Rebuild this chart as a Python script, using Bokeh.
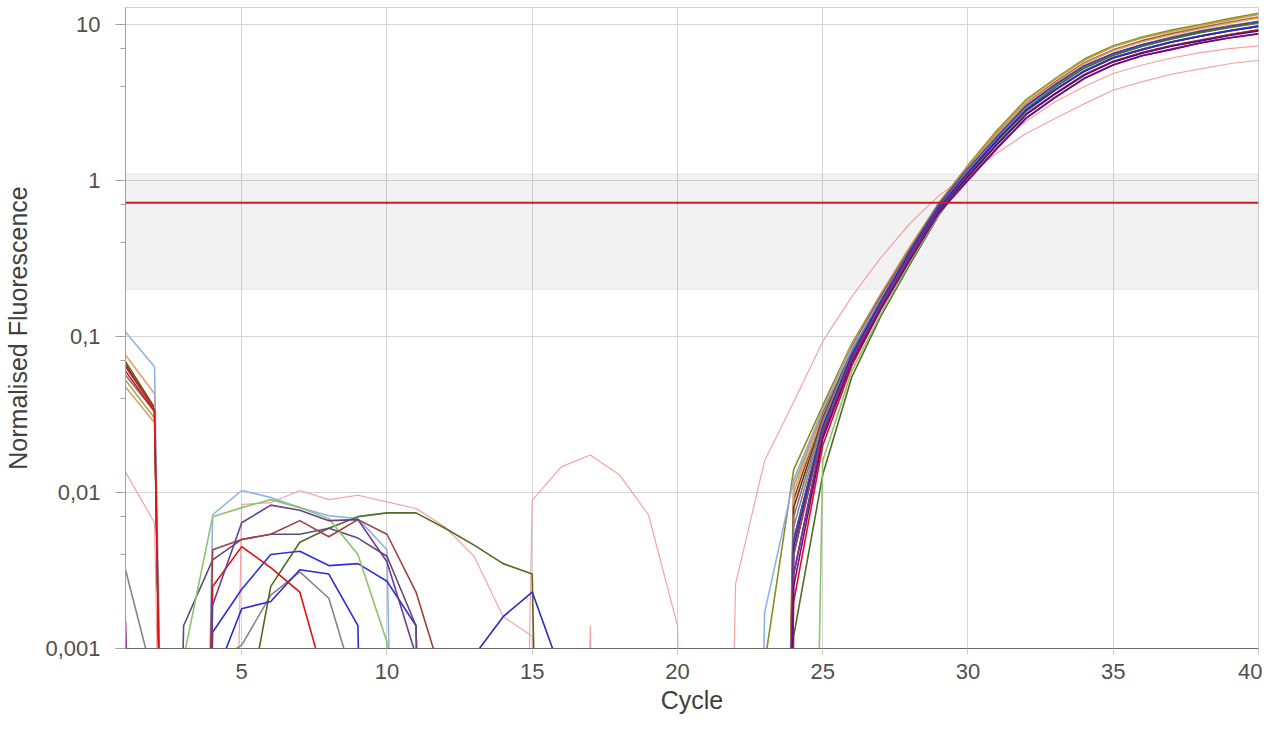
from bokeh.plotting import figure
from bokeh.models import Range1d, FixedTicker, Span, BoxAnnotation
from bokeh.embed import file_html
from bokeh.resources import INLINE

N = 1e-12  # reading below the axis (negative after baseline subtraction)

cycles = list(range(1, 41))

x_ticks = [5, 10, 15, 20, 25, 30, 35, 40]
y_ticks = [0.001, 0.01, 0.1, 1, 10]
y_minor = [0.004, 0.007, 0.04, 0.07, 0.4, 0.7, 4, 7]
y_labels = ["0,001", "0,01", "0,1", "1", "10"]

threshold = 0.72
band_low = 0.2
band_high = 1.1

# ---- series values, cycles 1..40 ----
s_olive = [N, N, N, N, N, N, N, N, N, N,
           N, N, N, N, N, N, N, N, N, N,
           N, N, 0.0008, 0.014, 0.036, 0.09, 0.185, 0.37, 0.72, 1.25,
           2.1, 3.3, 4.5, 6.0, 7.3, 8.3, 9.2, 10.0, 10.9, 11.8]
s_khaki = [0.0525, 0.03, N, N, N, N, N, N, N, N,
           N, N, N, N, N, N, N, N, N, N,
           N, N, N, 0.011, 0.033, 0.086, 0.18, 0.36, 0.71, 1.24,
           2.05, 3.25, 4.45, 5.9, 7.2, 8.2, 9.05, 9.85, 10.7, 11.6]
s_tan = [0.0475, 0.028, N, N, N, N, N, N, N, N,
         N, N, N, N, N, N, N, N, N, N,
         N, N, N, 0.012, 0.034, 0.088, 0.182, 0.365, 0.705, 1.22,
         2.0, 3.15, 4.3, 5.7, 6.9, 7.9, 8.8, 9.6, 10.4, 11.2]
s_brown = [0.069, 0.035, N, N, N, N, N, N, N, N,
           N, N, N, N, N, N, N, N, N, N,
           N, N, N, 0.009, 0.032, 0.085, 0.18, 0.36, 0.7, 1.21,
           1.98, 3.1, 4.25, 5.65, 6.85, 7.85, 8.7, 9.5, 10.3, 11.1]
s_orange = [0.076, 0.043, N, N, N, N, N, N, N, N,
            N, N, N, N, N, N, N, N, N, N,
            N, N, N, 0.01, 0.031, 0.083, 0.175, 0.35, 0.69, 1.2,
            1.97, 3.1, 4.2, 5.6, 6.8, 7.75, 8.6, 9.4, 10.2, 11.0]
s_darkbrown = [0.066, 0.034, N, N, N, N, N, N, N, N,
               N, N, N, N, N, N, N, N, N, N,
               N, N, N, 0.008, 0.03, 0.082, 0.175, 0.35, 0.69, 1.18,
               1.9, 3.0, 4.1, 5.4, 6.5, 7.4, 8.2, 9.0, 9.7, 10.4]
s_gray2 = [0.0565, 0.033, N, N, N, N, N, N, N, N,
           N, N, N, N, N, N, N, N, N, N,
           N, N, N, 0.007, 0.029, 0.08, 0.17, 0.345, 0.685, 1.18,
           1.92, 3.02, 4.12, 5.45, 6.55, 7.45, 8.3, 9.1, 9.8, 10.5]
s_lightblue = [0.107, 0.064, N, 0.0072, 0.0103, 0.0093, 0.008, 0.0071, 0.0068, 0.0043,
               N, N, N, N, N, N, N, N, N, N,
               N, N, 0.0017, 0.012, 0.034, 0.084, 0.175, 0.35, 0.68, 1.17,
               1.88, 2.95, 4.05, 5.35, 6.45, 7.35, 8.15, 8.95, 9.65, 10.3]
s_blue1 = [N, N, N, 0.00127, 0.0024, 0.004, 0.0042, 0.0034, 0.0035, 0.0027,
           0.0014, N, N, N, N, N, N, N, N, N,
           N, N, N, 0.005, 0.027, 0.078, 0.17, 0.35, 0.70, 1.18,
           1.9, 3.0, 4.1, 5.4, 6.5, 7.4, 8.2, 9.0, 9.7, 10.4]
s_gray = [0.0032, 0.0006, N, 0.0008, 0.00105, 0.0022, 0.0031, 0.0021, 0.0005, N,
          N, N, N, N, N, N, N, N, N, N,
          N, N, N, 0.006, 0.028, 0.078, 0.168, 0.34, 0.68, 1.16,
          1.86, 2.92, 4.0, 5.3, 6.35, 7.25, 8.05, 8.85, 9.55, 10.2]
s_darkgreen = [N, N, N, N, 0.00025, 0.0025, 0.0048, 0.0059, 0.007, 0.0074,
               0.0074, 0.0059, 0.0046, 0.0035, 0.003, N, N, N, N, N,
               N, N, N, 0.0012, 0.013, 0.055, 0.135, 0.29, 0.6, 1.08,
               1.78, 2.85, 3.95, 5.25, 6.35, 7.25, 8.1, 8.9, 9.6, 10.3]
s_slate = [N, N, 0.0014, 0.0037, 0.005, 0.0054, 0.0054, 0.0059, 0.0051, 0.0039,
           0.0014, N, N, N, N, N, N, N, N, N,
           N, N, N, 0.005, 0.026, 0.074, 0.162, 0.33, 0.66, 1.13,
           1.82, 2.82, 3.82, 5.05, 6.15, 6.95, 7.75, 8.45, 9.15, 9.8]
s_lightgreen = [N, N, 0.00087, 0.007, 0.008, 0.009, 0.008, 0.0068, 0.004, 0.0011,
                N, N, N, N, N, N, N, N, N, N,
                N, N, N, N, 0.016, 0.06, 0.14, 0.3, 0.61, 1.07,
                1.76, 2.78, 3.8, 5.0, 6.1, 6.9, 7.7, 8.4, 9.1, 9.7]
s_blue2 = [N, N, N, 0.0006, 0.0018, 0.002, 0.0032, 0.003, 0.0014, N,
           N, N, N, N, N, N, N, N, N, N,
           N, N, N, 0.004, 0.026, 0.075, 0.165, 0.34, 0.67, 1.12,
           1.8, 2.8, 3.8, 5.0, 6.1, 6.9, 7.7, 8.4, 9.1, 9.7]
s_blue3 = [N, N, N, N, N, N, N, N, N, N,
           N, N, 0.0009, 0.0016, 0.0023, 0.0007, N, N, N, N,
           N, N, N, 0.0045, 0.026, 0.076, 0.166, 0.34, 0.67, 1.12,
           1.81, 2.81, 3.81, 5.02, 6.12, 6.92, 7.72, 8.42, 9.12, 9.75]
s_brownred = [0.064, 0.034, N, 0.0043, 0.005, 0.0054, 0.0066, 0.0052, 0.0067, 0.0054,
              0.0023, 0.00057, N, N, N, N, N, N, N, N,
              N, N, N, 0.004, 0.025, 0.072, 0.16, 0.33, 0.65, 1.08,
              1.72, 2.68, 3.62, 4.78, 5.82, 6.62, 7.32, 7.95, 8.62, 9.25]
s_red = [0.06, 0.033, N, 0.0025, 0.0045, 0.0033, 0.0023, 0.0005, N, N,
         N, N, N, N, N, N, N, N, N, N,
         N, N, N, 0.002, 0.02, 0.065, 0.15, 0.31, 0.63, 1.06,
         1.7, 2.65, 3.6, 4.75, 5.8, 6.6, 7.3, 7.9, 8.6, 9.2]
s_indigo = [N, N, N, N, N, N, N, N, N, N,
            N, N, N, N, N, N, N, N, N, N,
            N, N, N, 0.003, 0.023, 0.07, 0.155, 0.32, 0.64, 1.06,
            1.7, 2.64, 3.58, 4.72, 5.76, 6.55, 7.25, 7.85, 8.5, 9.1]
s_purple = [N, N, N, 0.0019, 0.0064, 0.0083, 0.0077, 0.0066, 0.0067, 0.0036,
            0.0009, N, N, N, N, N, N, N, N, N,
            N, N, N, 0.003, 0.024, 0.07, 0.155, 0.32, 0.63, 1.02,
            1.62, 2.52, 3.42, 4.52, 5.52, 6.32, 6.95, 7.62, 8.22, 8.75]
s_magenta = [0.0015, N, N, N, N, N, N, N, N, N,
             N, N, N, N, N, N, N, N, N, N,
             N, N, N, 0.0025, 0.022, 0.068, 0.15, 0.31, 0.62, 1.0,
             1.6, 2.5, 3.4, 4.5, 5.5, 6.3, 6.9, 7.6, 8.2, 8.7]
s_pink1 = [0.0135, 0.0064, N, N, N, N, N, N, N, N,
           N, N, N, N, 0.0089, 0.0146, 0.0174, 0.013, 0.0072, 0.0014,
           N, 0.0026, 0.016, 0.038, 0.093, 0.18, 0.32, 0.53, 0.8, 1.1,
           1.5, 2.0, 2.5, 3.1, 3.8, 4.3, 4.8, 5.2, 5.6, 5.9]
s_pink2 = [N, N, N, N, 0.0084, 0.0086, 0.0103, 0.009, 0.0096, 0.0087,
           0.0079, 0.006, 0.0039, 0.0016, 0.0012, N, 0.0014, N, N, N,
           N, N, N, 0.01, 0.035, 0.09, 0.19, 0.38, 0.72, 1.15,
           1.7, 2.4, 3.2, 4.0, 4.85, 5.5, 6.1, 6.6, 7.0, 7.3]

PINK = "#f3a3a3"
series = [
    (s_pink1, PINK), (s_pink2, PINK),
    (s_olive, "#8c8c1e"), (s_khaki, "#b4a24a"), (s_tan, "#d8a068"),
    (s_brown, "#8b4513"), (s_orange, "#e8a070"), (s_darkbrown, "#6b2f1a"),
    (s_gray2, "#7a7a7a"), (s_lightblue, "#8fb2e6"), (s_blue1, "#2f2fe0"),
    (s_gray, "#858585"), (s_darkgreen, "#4f6b22"), (s_slate, "#5e4b7a"),
    (s_lightgreen, "#8cc46e"), (s_blue2, "#2b2bd0"), (s_blue3, "#2a2ac0"),
    (s_brownred, "#a04040"), (s_red, "#e01010"), (s_indigo, "#3a1a7a"),
    (s_purple, "#6a3d8f"), (s_magenta, "#800080"),
]

FONT = "Liberation Sans"

p = figure(width=1262, height=717, y_axis_type="log",
           x_range=Range1d(1, 40), y_range=Range1d(0.001, 12.85),
           output_backend="svg", toolbar_location=None, title=None,
           min_border_left=125, min_border_right=4,
           min_border_top=7, min_border_bottom=69)

p.outline_line_color = "#d0d0d0"
p.background_fill_color = "white"

band = BoxAnnotation(bottom=band_low, top=band_high, fill_color="black",
                     fill_alpha=0.05, line_color="#bcbcbc", line_width=1,
                     level="underlay")
p.add_layout(band)

for vals, col in series:
    w = 1.2 if col == PINK else 1.6
    p.line(cycles, vals, line_color=col, line_width=w)

p.add_layout(Span(location=threshold, dimension="width",
                  line_color="#cf1d1d", line_width=1.8))

p.xaxis.ticker = FixedTicker(ticks=x_ticks)
p.yaxis.ticker = FixedTicker(ticks=y_ticks, minor_ticks=y_minor)
p.yaxis.major_label_overrides = {t: l for t, l in zip(y_ticks, y_labels)}

for g in (p.xgrid, p.ygrid):
    g.grid_line_color = "#d6d6d6"
    g.grid_line_width = 1

for ax in (p.xaxis, p.yaxis):
    ax.major_label_text_font = FONT
    ax.major_label_text_font_size = "22px"
    ax.major_label_text_color = "#505050"
    ax.axis_label_text_font = FONT
    ax.axis_label_text_font_size = "25px"
    ax.axis_label_text_font_style = "normal"
    ax.axis_label_text_color = "#404040"
    ax.major_tick_in = 0
    ax.minor_tick_in = 0

p.xaxis.axis_label = "Cycle"
p.yaxis.axis_label = "Normalised Fluorescence"

p.xaxis.axis_line_color = "#6a6a6a"
p.xaxis.major_tick_line_color = "#c8c8c8"
p.xaxis.major_tick_out = 6
p.xaxis.minor_tick_line_color = None
p.xaxis.major_label_standoff = 9
p.xaxis.axis_label_standoff = 4

p.yaxis.axis_line_color = "#a0a0a0"
p.yaxis.major_tick_line_color = "#a0a0a0"
p.yaxis.minor_tick_line_color = "#a0a0a0"
p.yaxis.major_tick_out = 10
p.yaxis.minor_tick_out = 5
p.yaxis.major_label_standoff = 15
p.yaxis.axis_label_standoff = 10

open("out.html", "w").write(file_html(p, INLINE))
